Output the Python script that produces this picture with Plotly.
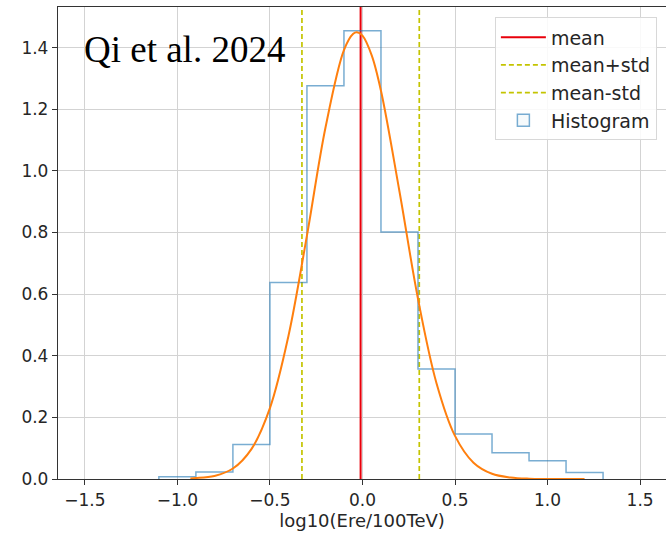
import plotly.graph_objects as go

# Histogram (density)
bin_edges = [-1.1, -0.9, -0.7, -0.5, -0.3, -0.1, 0.1, 0.3, 0.5, 0.7, 0.9, 1.1, 1.3]
bin_heights = [0.007, 0.023, 0.112, 0.638, 1.276, 1.455, 0.802, 0.357, 0.146, 0.085, 0.059, 0.021]

# Fitted curve (orange)
curve_x = [-0.93, -0.9, -0.8, -0.7, -0.6, -0.5, -0.4, -0.3, -0.2, -0.1, -0.05, -0.03, 0.0,
           0.05, 0.1, 0.2, 0.3, 0.4, 0.5, 0.6, 0.7, 0.8, 0.9, 1.0, 1.1, 1.2]
curve_y = [0.002, 0.003, 0.010, 0.034, 0.097, 0.230, 0.464, 0.790, 1.140, 1.392, 1.445, 1.450, 1.439,
           1.375, 1.260, 0.933, 0.585, 0.311, 0.140, 0.053, 0.017, 0.005, 0.001, 0.0002, 0.0, 0.0]

mean_val = -0.01
std_val = 0.317

x_range = [-1.645, 1.64]
y_range = [0, 1.532]
x_ticks = [-1.5, -1.0, -0.5, 0.0, 0.5, 1.0, 1.5]
y_ticks = [0.0, 0.2, 0.4, 0.6, 0.8, 1.0, 1.2, 1.4]

hist_color = "rgba(31,119,180,0.6)"

# step outline built from the bins
hx = [bin_edges[0]] + bin_edges + [bin_edges[-1]]
hy = [0] + bin_heights + [bin_heights[-1], 0]

fig = go.Figure()
fig.add_trace(go.Scatter(
    x=[mean_val, mean_val], y=[0, 2], mode="lines", name="mean",
    line=dict(color="#e8000b", width=2)))
fig.add_trace(go.Scatter(
    x=[mean_val + std_val] * 2, y=[0, 2], mode="lines", name="mean+std",
    line=dict(color="#c4c400", width=1.7, dash="5px,3px")))
fig.add_trace(go.Scatter(
    x=[mean_val - std_val] * 2, y=[0, 2], mode="lines", name="mean-std",
    line=dict(color="#c4c400", width=1.7, dash="5px,3px")))
# legend entry for the histogram (rectangle patch)
fig.add_trace(go.Bar(
    x=[None], y=[None], name="Histogram",
    marker=dict(color="rgba(31,119,180,0.04)", line=dict(color=hist_color, width=1.5))))
fig.add_trace(go.Scatter(
    x=hx, y=hy, mode="lines", showlegend=False, line_shape="hv",
    line=dict(color=hist_color, width=1.5)))
fig.add_trace(go.Scatter(
    x=curve_x, y=curve_y, mode="lines", showlegend=False, line_shape="spline",
    line=dict(color="#ff7f0e", width=2)))

fig.add_annotation(
    x=-1.515, y=1.393, xref="x", yref="y", text="Qi et al. 2024", showarrow=False,
    xanchor="left", yanchor="middle",
    font=dict(family="Liberation Serif", size=37, color="black"))

fig.update_layout(
    width=666, height=533,
    margin=dict(l=58, r=0, t=7, b=54),
    paper_bgcolor="white", plot_bgcolor="white",
    font=dict(family="DejaVu Sans", size=17, color="#262626"),
    legend=dict(
        x=0.985, y=0.978, xanchor="right", yanchor="top",
        bgcolor="rgba(255,255,255,0.85)", bordercolor="#d8d8d8", borderwidth=1,
        itemwidth=45,
        font=dict(size=19, color="#262626"), traceorder="normal"),
    xaxis=dict(
        range=x_range, tickvals=x_ticks, tickformat=".1f",
        showgrid=True, gridcolor="#d3d3d3", gridwidth=1,
        showline=True, linecolor="#333", linewidth=1.3, mirror=True,
        ticks="outside", ticklen=5, tickcolor="#333", zeroline=False,
        title=dict(text="log10(Ere/100TeV)", font=dict(size=18), standoff=4)),
    yaxis=dict(
        range=y_range, tickvals=y_ticks, tickformat=".1f",
        showgrid=True, gridcolor="#d3d3d3", gridwidth=1,
        showline=True, linecolor="#333", linewidth=1.3,
        ticks="outside", ticklen=5, tickcolor="#333", zeroline=False),
)

fig.write_html("out.html")
